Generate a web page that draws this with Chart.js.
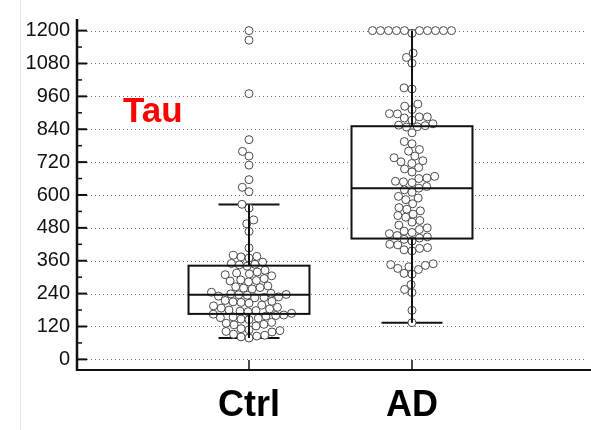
<!DOCTYPE html>
<html>
<head>
<meta charset="utf-8">
<script src="https://cdn.jsdelivr.net/npm/chart.js@4.4.1/dist/chart.umd.min.js"></script>
<style>
html,body{margin:0;padding:0;background:#fff;}
#wrap{width:591px;height:430px;}
</style>
</head>
<body>
<div id="wrap"><canvas id="c" width="591" height="430"></canvas></div>
<script>
// ---- data ----
const categories = ['Ctrl', 'AD'];
const panelLabel = 'Tau';
const yTicks = [0, 120, 240, 360, 480, 600, 720, 840, 960, 1080, 1200];
const yMinorTicks = [60, 180, 300, 420, 540, 660, 780, 900, 1020, 1140];

const ctrlValues = [
  1200, 1165, 970, 802, 759, 742, 709, 656, 628, 612, 566, 552, 509, 495, 467,
  407,
  380, 376, 374, 370,
  355, 350, 347, 345, 340,
  325, 319, 315, 312, 309, 305,
  295, 290, 288, 286, 283,
  268, 265, 262, 260, 257,
  245, 241, 239, 237, 236, 234, 231, 228, 226, 225,
  215, 212, 210, 208, 205,
  198, 195, 190, 187, 184, 180, 178, 176, 174,
  168, 165, 162, 160, 158, 155, 152, 150, 147, 145,
  135, 132, 128, 126, 122,
  112, 108, 105, 102, 100,
  92, 88, 85, 82, 78
];

const adValues = [
  1200, 1200, 1200, 1200, 1200, 1200, 1200, 1200, 1200, 1200, 1190,
  1118, 1102, 1081,
  991, 987,
  932, 924, 912, 897, 896, 885, 885, 881, 873,
  860, 855, 853, 849, 848,
  827, 795, 787, 766, 760, 742, 736, 725, 721, 715, 700, 695, 684, 668, 662,
  660, 650, 648, 645, 631, 625, 619, 610, 595, 589, 583, 568, 554, 548, 542,
  530, 525, 519, 507, 501, 490, 480, 474, 468,
  463, 459, 452, 447, 443, 438, 432,
  420, 418, 408, 405, 400, 396,
  349, 346, 343, 338, 332, 328,
  314, 311,
  273, 255, 244,
  179, 134
];

// box statistics per category (whisker low, Q1, median, Q3, whisker high)
const boxLow    = [78, 134];
const boxQ1     = [166, 441];
const boxMedian = [236, 625];
const boxQ3     = [342, 851];
const boxHigh   = [565, 1200];

// ---- drawing ----
const BOX_HALF = 0.371;
const CAP_HALF = 0.187;
const FONT = '"Liberation Sans", Arial, sans-serif';

const boxPlugin = {
  id: 'boxes',
  beforeDatasetsDraw(chart) {
    const {ctx, chartArea: a, scales: {x, y}} = chart;
    ctx.save();
    // faint frame line at far left
    ctx.strokeStyle = '#e4e4e4';
    ctx.lineWidth = 1;
    ctx.beginPath(); ctx.moveTo(20.5, 0); ctx.lineTo(20.5, chart.height); ctx.stroke();
    // dotted grid lines
    ctx.strokeStyle = '#7a7a7a';
    ctx.lineWidth = 1;
    ctx.setLineDash([1, 3]);
    yTicks.forEach(v => {
      const py = Math.round(y.getPixelForValue(v)) + 0.5;
      ctx.beginPath(); ctx.moveTo(a.left + 10, py); ctx.lineTo(a.right, py); ctx.stroke();
    });
    ctx.setLineDash([]);
    // white box fill and caps
    categories.forEach((c, i) => {
      const cx = i + 1;
      const x0 = x.getPixelForValue(cx - BOX_HALF), x1 = x.getPixelForValue(cx + BOX_HALF);
      const top = y.getPixelForValue(boxQ3[i]), bot = y.getPixelForValue(boxQ1[i]);
      ctx.fillStyle = '#fff';
      ctx.fillRect(x0, top, x1 - x0, bot - top);
      ctx.strokeStyle = '#111';
      ctx.lineWidth = 2;
      const c0 = x.getPixelForValue(cx - CAP_HALF), c1 = x.getPixelForValue(cx + CAP_HALF);
      [boxLow[i], boxHigh[i]].forEach(v => {
        const py = y.getPixelForValue(v);
        ctx.beginPath(); ctx.moveTo(c0, py); ctx.lineTo(c1, py); ctx.stroke();
      });
    });
    ctx.restore();
  },
  afterDatasetsDraw(chart) {
    const {ctx, chartArea: a, scales: {x, y}} = chart;
    ctx.save();
    ctx.strokeStyle = '#111';
    ctx.lineWidth = 2;
    categories.forEach((c, i) => {
      const cx = i + 1;
      const px = x.getPixelForValue(cx);
      const x0 = x.getPixelForValue(cx - BOX_HALF), x1 = x.getPixelForValue(cx + BOX_HALF);
      const top = y.getPixelForValue(boxQ3[i]), bot = y.getPixelForValue(boxQ1[i]);
      const med = y.getPixelForValue(boxMedian[i]);
      ctx.strokeRect(x0, top, x1 - x0, bot - top);
      ctx.beginPath(); ctx.moveTo(x0, med); ctx.lineTo(x1, med); ctx.stroke();
      ctx.beginPath();
      ctx.moveTo(px, top); ctx.lineTo(px, y.getPixelForValue(boxHigh[i]));
      ctx.moveTo(px, bot); ctx.lineTo(px, y.getPixelForValue(boxLow[i]));
      ctx.stroke();
    });
    // axes
    ctx.lineWidth = 2.5;
    ctx.beginPath(); ctx.moveTo(a.left, a.top); ctx.lineTo(a.left, a.bottom + 1); ctx.stroke();
    ctx.lineWidth = 2;
    ctx.beginPath(); ctx.moveTo(a.left, a.bottom); ctx.lineTo(chart.width, a.bottom); ctx.stroke();
    // inward ticks
    ctx.lineWidth = 2;
    yTicks.forEach(v => {
      const py = y.getPixelForValue(v);
      ctx.beginPath(); ctx.moveTo(a.left, py); ctx.lineTo(a.left + 10, py); ctx.stroke();
    });
    ctx.lineWidth = 1.5;
    yMinorTicks.forEach(v => {
      const py = y.getPixelForValue(v);
      ctx.beginPath(); ctx.moveTo(a.left, py); ctx.lineTo(a.left + 5, py); ctx.stroke();
    });
    categories.forEach((c, i) => {
      const px = x.getPixelForValue(i + 1);
      ctx.beginPath(); ctx.moveTo(px, a.bottom); ctx.lineTo(px, a.bottom - 10); ctx.stroke();
    });
    // panel label
    ctx.fillStyle = '#ff0000';
    ctx.font = 'bold 35px ' + FONT;
    ctx.textBaseline = 'alphabetic';
    ctx.textAlign = 'left';
    ctx.fillText(panelLabel, 123, 122);
    ctx.restore();
  }
};

const pointStyle = {
  pointRadius: 4,
  pointHoverRadius: 4,
  pointBackgroundColor: '#ffffff',
  pointBorderColor: '#4a4a4a',
  pointBorderWidth: 1,
  showLine: false
};

const chart = new Chart(document.getElementById('c'), {
  type: 'scatter',
  data: {
    datasets: [
      Object.assign({label: categories[0], data: ctrlValues.map(v => ({x: 1, y: v}))}, pointStyle),
      Object.assign({label: categories[1], data: adValues.map(v => ({x: 2, y: v}))}, pointStyle)
    ]
  },
  options: {
    responsive: false,
    animation: false,
    events: [],
    layout: {padding: {top: 7, right: 6, left: 0, bottom: 0}},
    plugins: {legend: {display: false}, tooltip: {enabled: false}},
    scales: {
      x: {
        type: 'linear', min: -0.0552, max: 3.0614,
        grid: {display: false, drawTicks: false},
        border: {display: false},
        afterBuildTicks: s => { s.ticks = categories.map((c, i) => ({value: i + 1})); },
        afterFit: s => { s.height = 60; },
        ticks: {
          callback: v => categories[v - 1] || '',
          font: {family: FONT, size: 36, weight: 'bold'},
          color: '#000', padding: 14, maxRotation: 0, autoSkip: false
        }
      },
      y: {
        min: -38.8, max: 1242.4,
        grid: {display: false, drawTicks: false},
        border: {display: false},
        afterBuildTicks: s => { s.ticks = yTicks.map(v => ({value: v})); },
        afterFit: s => { s.width = 77; },
        ticks: {
          callback: v => String(v),
          font: {family: FONT, size: 20}, color: '#111', padding: 7
        }
      }
    }
  },
  plugins: [boxPlugin]
});

// beeswarm layout computed through the chart's scales
function swarmOffsets(values, center) {
  const xs = chart.scales.x, ys = chart.scales.y;
  const pxPerUnit = xs.getPixelForValue(center + 1) - xs.getPixelForValue(center);
  const d = 8;
  const order = values.map((v, i) => i).sort((a, b) => values[a] - values[b]);
  const placed = [];
  const off = new Array(values.length).fill(0);
  for (const i of order) {
    const py = ys.getPixelForValue(values[i]);
    const near = placed.filter(p => Math.abs(p.py - py) < d);
    const cands = [0];
    near.forEach(p => {
      const dx = Math.sqrt(d * d - (p.py - py) * (p.py - py));
      cands.push(p.px + dx, p.px - dx);
    });
    cands.sort((a, b) => (Math.abs(a) - Math.abs(b)) || (a - b));
    let chosen = 0;
    for (const c of cands) {
      if (near.every(p => (c - p.px) * (c - p.px) + (p.py - py) * (p.py - py) >= d * d - 0.01)) { chosen = c; break; }
    }
    placed.push({px: chosen, py});
    off[i] = chosen / pxPerUnit;
  }
  return off;
}

const ctrlOff = swarmOffsets(ctrlValues, 1);
const adOff = swarmOffsets(adValues, 2);
chart.data.datasets[0].data = ctrlValues.map((v, i) => ({x: 1 + ctrlOff[i], y: v}));
chart.data.datasets[1].data = adValues.map((v, i) => ({x: 2 + adOff[i], y: v}));
chart.update('none');
</script>
</body>
</html>
